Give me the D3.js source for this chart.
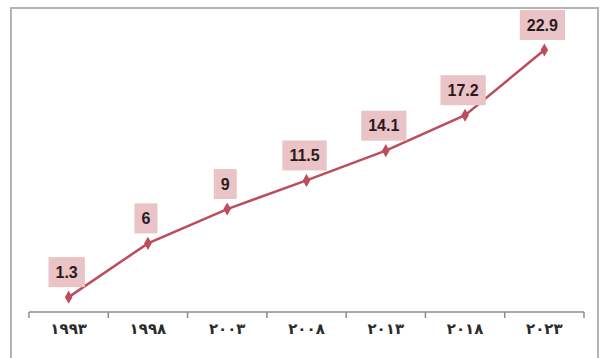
<!DOCTYPE html>
<html>
<head>
<meta charset="utf-8">
<script src="https://cdn.jsdelivr.net/npm/d3@7/dist/d3.min.js"></script>
<style>
  html, body { margin: 0; padding: 0; background: #fff; }
  svg { display: block; }
</style>
</head>
<body>
<svg id="chart" width="602" height="358"></svg>
<script>
// Years shown on the category axis (Arabic-Indic digits) and the plotted values
const years = ["١٩٩٣", "١٩٩٨", "٢٠٠٣", "٢٠٠٨", "٢٠١٣", "٢٠١٨", "٢٠٢٣"];
const values = [1.3, 6, 9, 11.5, 14.1, 17.2, 22.9];
const valueLabels = ["1.3", "6", "9", "11.5", "14.1", "17.2", "22.9"];

const svg = d3.select("#chart");

// outer frame
svg.append("rect")
  .attr("x", 11).attr("y", 8)
  .attr("width", 587).attr("height", 360)
  .attr("fill", "#fff")
  .attr("stroke", "#b4b4b4")
  .attr("stroke-width", 2);

const x = d3.scaleBand().domain(years).range([29, 584]).padding(0);
const y = d3.scaleLinear().domain([0, 25]).range([312, 26]);

// category axis with ticks at band boundaries
const axisG = svg.append("g").attr("transform", "translate(0,312)");
axisG.append("line")
  .attr("x1", 29).attr("x2", 584)
  .attr("stroke", "#8c8c8c").attr("stroke-width", 1.5);
const bounds = years.map(d => x(d)).concat([x(years[years.length - 1]) + x.bandwidth()]);
axisG.selectAll("line.tick")
  .data(bounds)
  .join("line")
  .attr("class", "tick")
  .attr("x1", d => d).attr("x2", d => d)
  .attr("y1", 0).attr("y2", 6)
  .attr("stroke", "#8c8c8c").attr("stroke-width", 1.5);
axisG.selectAll("text")
  .data(years)
  .join("text")
  .attr("x", d => x(d) + x.bandwidth() / 2)
  .attr("y", 22)
  .attr("text-anchor", "middle")
  .attr("font-family", "DejaVu Sans")
  .attr("font-weight", "bold")
  .attr("font-size", 15)
  .attr("letter-spacing", 3)
  .attr("fill", "#2b2b2b")
  .text(d => d);

const pts = years.map((d, i) => ({ year: d, v: values[i], label: valueLabels[i] }));
const cx = d => x(d.year) + x.bandwidth() / 2;

// line series
svg.append("path")
  .datum(pts)
  .attr("fill", "none")
  .attr("stroke", "#bd4d5c")
  .attr("stroke-width", 2.5)
  .attr("d", d3.line().x(cx).y(d => y(d.v)));

// diamond markers
svg.selectAll("path.marker")
  .data(pts)
  .join("path")
  .attr("class", "marker")
  .attr("transform", d => `translate(${cx(d)},${y(d.v)})`)
  .attr("d", d3.symbol(d3.symbolDiamond, 50))
  .attr("fill", "#bd4d5c");

// value labels in shaded boxes
const lab = svg.selectAll("g.vlabel")
  .data(pts)
  .join("g")
  .attr("class", "vlabel")
  .attr("transform", d => `translate(${cx(d) - 2},${y(d.v) - 25})`);
lab.append("text")
  .attr("text-anchor", "middle")
  .attr("dy", "0.35em")
  .attr("font-family", "Liberation Sans")
  .attr("font-weight", "bold")
  .attr("font-size", 16)
  .attr("fill", "#2a1a1e")
  .text(d => d.label);
lab.each(function() {
  const g = d3.select(this);
  const bb = g.select("text").node().getBBox();
  g.insert("rect", "text")
    .attr("x", bb.x - 7).attr("y", -15)
    .attr("width", bb.width + 14).attr("height", 30)
    .attr("fill", "#e9c3c5");
});
</script>
</body>
</html>
